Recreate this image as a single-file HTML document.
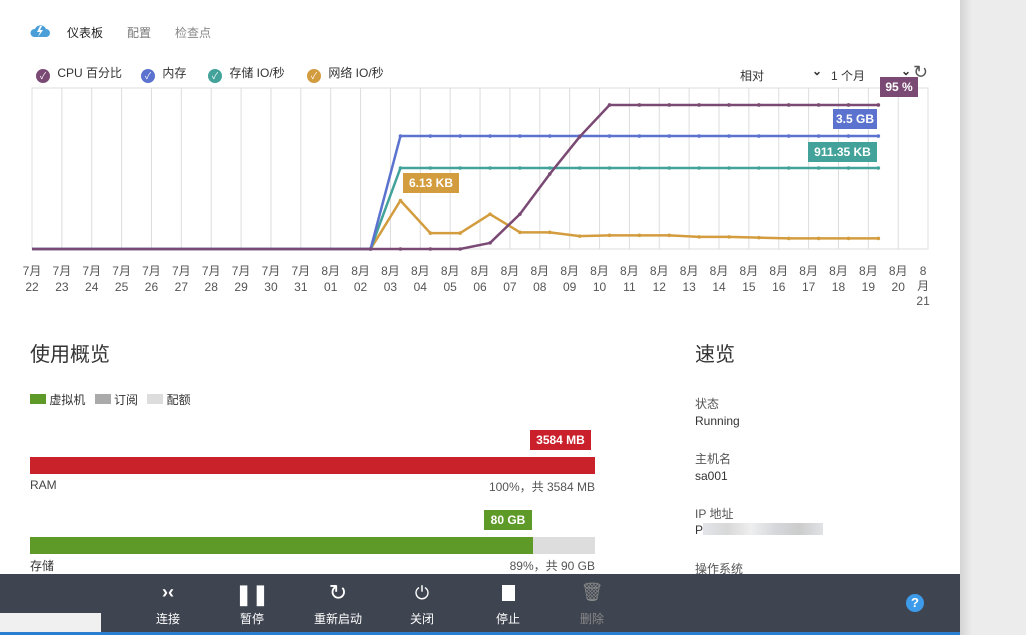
<!DOCTYPE html>
<html><head><meta charset="utf-8"><style>
body{margin:0;width:1026px;height:635px;overflow:hidden;background:#fff;font-family:"Liberation Sans","Noto Sans CJK SC",sans-serif;color:#333;position:relative}
.a{position:absolute;white-space:nowrap}
.t12{font-size:12px}
.lab{color:#fff;font-weight:bold;font-size:12px;text-align:center;line-height:20px;height:20px}
</style></head><body>
<div class="a" style="left:960px;top:0;width:66px;height:635px;background:linear-gradient(90deg,#d4d4d4,#ececec 12px,#ececec)"></div>
<svg class="a" style="left:30px;top:24px" width="20" height="14" viewBox="0 0 20 14"><path d="M4 13 A4 4 0 0 1 5 5 A6 6 0 0 1 16 5 A4 4 0 0 1 16 13 Z" fill="#4a9fd8"/><path d="M10 2 L7 8 L10 8 L8 13 L13 6 L10 6 L12 2Z" fill="#fff"/></svg>
<div class="a t12" style="left:67px;top:24px;color:#222">仪表板</div>
<div class="a t12" style="left:127px;top:24px;color:#777">配置</div>
<div class="a t12" style="left:175px;top:24px;color:#888">检查点</div>

<div class="a t12" style="left:36px;top:64px"><span style="display:inline-block;width:14px;height:14px;border-radius:50%;background:#7a4a74;color:#fff;font-size:9px;text-align:center;line-height:14px;vertical-align:-2px">✓</span> <span style="margin-left:4px">CPU 百分比</span></div>
<div class="a t12" style="left:141px;top:64px"><span style="display:inline-block;width:14px;height:14px;border-radius:50%;background:#5b73cf;color:#fff;font-size:9px;text-align:center;line-height:14px;vertical-align:-2px">✓</span> <span style="margin-left:4px">内存</span></div>
<div class="a t12" style="left:208px;top:64px"><span style="display:inline-block;width:14px;height:14px;border-radius:50%;background:#43a39b;color:#fff;font-size:9px;text-align:center;line-height:14px;vertical-align:-2px">✓</span> <span style="margin-left:4px">存储 IO/秒</span></div>
<div class="a t12" style="left:307px;top:64px"><span style="display:inline-block;width:14px;height:14px;border-radius:50%;background:#d39c3e;color:#fff;font-size:9px;text-align:center;line-height:14px;vertical-align:-2px">✓</span> <span style="margin-left:4px">网络 IO/秒</span></div>
<div class="a t12" style="left:740px;top:67px;width:80px">相对<span style="position:absolute;left:72px;top:-3px;font-size:12px;font-weight:bold">⌄</span></div>
<div class="a t12" style="left:831px;top:67px;width:80px">1 个月<span style="position:absolute;left:70px;top:-3px;font-size:12px;font-weight:bold">⌄</span></div>
<div class="a" style="left:913px;top:62px;font-size:18px;color:#555">↻</div>

<svg id="chart" class="a" style="left:0;top:0" width="960" height="320"></svg>

<div class="a lab" style="left:880px;top:77px;width:38px;background:#7a4a74">95 %</div>
<div class="a lab" style="left:833px;top:109px;width:44px;background:#5b73cf">3.5 GB</div>
<div class="a lab" style="left:808px;top:142px;width:69px;background:#43a39b">911.35 KB</div>
<div class="a lab" style="left:403px;top:173px;width:56px;background:#d39c3e">6.13 KB</div>

<div class="a" style="left:30px;top:338px;font-size:20px;color:#333">使用概览</div>
<div class="a t12" style="left:30px;top:391px"><span style="display:inline-block;width:16px;height:10px;background:#5e9a28"></span> 虚拟机 <span style="display:inline-block;width:16px;height:10px;background:#aaa;margin-left:6px"></span> 订阅 <span style="display:inline-block;width:16px;height:10px;background:#ddd;margin-left:6px"></span> 配额</div>
<div class="a lab" style="left:530px;top:430px;width:61px;background:#c9202b">3584 MB</div>
<div class="a" style="left:30px;top:457px;width:565px;height:17px;background:#c9222b"></div>
<div class="a t12" style="left:30px;top:478px;color:#444">RAM</div>
<div class="a t12" style="left:470px;top:478px;width:125px;text-align:right;color:#555">100%，共 3584 MB</div>
<div class="a lab" style="left:484px;top:510px;width:48px;background:#5e9a28">80 GB</div>
<div class="a" style="left:30px;top:537px;width:565px;height:17px;background:#ddd"></div>
<div class="a" style="left:30px;top:537px;width:503px;height:17px;background:#5e9a28"></div>
<div class="a t12" style="left:30px;top:557px;color:#333">存储</div>
<div class="a t12" style="left:470px;top:557px;width:125px;text-align:right;color:#555">89%，共 90 GB</div>

<div class="a" style="left:695px;top:338px;font-size:20px;color:#333">速览</div>
<div class="a t12" style="left:695px;top:395px;color:#555">状态</div>
<div class="a t12" style="left:695px;top:414px">Running</div>
<div class="a t12" style="left:695px;top:450px;color:#555">主机名</div>
<div class="a t12" style="left:695px;top:469px">sa001</div>
<div class="a t12" style="left:695px;top:505px;color:#555">IP 地址</div>
<div class="a t12" style="left:695px;top:523px">P<span style="display:inline-block;width:120px;height:12px;background:linear-gradient(90deg,#e2e5ea,#d8d8d8,#eee,#d5d8dc,#ccc,#e0e2e6);vertical-align:-1px"></span></div>
<div class="a t12" style="left:695px;top:560px;color:#555">操作系统</div>

<div class="a" style="left:0;top:574px;width:960px;height:58px;background:#3e4450"></div>
<div class="a" style="left:0;top:613px;width:101px;height:19px;background:#f0f0f0"></div>
<div class="a" style="left:0;top:632px;width:960px;height:3px;background:#2b7fd0"></div>
<div class="a" style="left:148px;top:582px;width:40px;text-align:center;color:#fff;font-size:12px"><div style="font-size:18px;font-weight:bold;height:28px">›‹</div>连接</div>
<div class="a" style="left:232px;top:582px;width:40px;text-align:center;color:#fff;font-size:12px"><div style="font-size:20px;font-weight:bold;height:28px">❚❚</div>暂停</div>
<div class="a" style="left:310px;top:582px;width:56px;text-align:center;color:#fff;font-size:12px"><div style="font-size:22px;height:28px;line-height:22px">↻</div>重新启动</div>
<div class="a" style="left:402px;top:582px;width:40px;text-align:center;color:#fff;font-size:12px"><div style="font-size:18px;height:28px;line-height:22px">⏻</div>关闭</div>
<div class="a" style="left:488px;top:582px;width:40px;text-align:center;color:#fff;font-size:12px"><div style="height:28px"><span style="display:inline-block;width:13px;height:16px;background:#fff;margin-top:3px"></span></div>停止</div>
<div class="a" style="left:572px;top:582px;width:40px;text-align:center;color:#888;font-size:12px"><div style="font-size:18px;height:28px">🗑</div>删除</div>
<div class="a" style="left:906px;top:594px;width:18px;height:18px;border-radius:50%;background:#3d9be9;color:#fff;font-weight:bold;font-size:13px;text-align:center;line-height:18px">?</div>

<script>
const dayLabels=["22","23","24","25","26","27","28","29","30","31","01","02","03","04","05","06","07","08","09","10","11","12","13","14","15","16","17","18","19","20","21"];
const monthLabels=["7月","7月","7月","7月","7月","7月","7月","7月","7月","7月","8月","8月","8月","8月","8月","8月","8月","8月","8月","8月","8月","8月","8月","8月","8月","8月","8月","8月","8月","8月","8月"];
const cpu=[0,0,0,0,0,0,0,0,0,0,0,0,0,0,0,4,23,49.5,74,95,95,95,95,95,95,95,95,95,95];
const memory=[0,0,0,0,0,0,0,0,0,0,0,0,74.5,74.5,74.5,74.5,74.5,74.5,74.5,74.5,74.5,74.5,74.5,74.5,74.5,74.5,74.5,74.5,74.5];
const storage=[0,0,0,0,0,0,0,0,0,0,0,0,53.4,53.4,53.4,53.4,53.4,53.4,53.4,53.4,53.4,53.4,53.4,53.4,53.4,53.4,53.4,53.4,53.4];
const network=[0,0,0,0,0,0,0,0,0,0,0,0,32,10.5,10.5,23,11,11,8.5,9,9,9,8,8,7.5,7,7,7,7];
const svg=document.getElementById('chart');
const NS='http://www.w3.org/2000/svg';
const L=32,R=928,T=88,B=249,STEP=29.87;
function gx(i){return L+i*STEP;}
function px(i){return L+10+i*STEP;}
function py(v){return B-v*1.516;}
function mk(tag,attrs){const e=document.createElementNS(NS,tag);for(const k in attrs)e.setAttribute(k,attrs[k]);svg.appendChild(e);return e;}
const frame=mk('rect',{x:L,y:T,width:R-L,height:B-T,fill:'none',stroke:'#ddd'});


dayLabels.forEach((d,i)=>{
  const x=gx(i);
  if(i>0&&x<R){const g=mk('line',{x1:x,y1:T,x2:x,y2:B,stroke:'#ddd'});
  
  }
  const last=i===dayLabels.length-1;
  const t=mk('text',{x:x,y:275,'text-anchor':'middle','font-size':12,fill:'#555','font-family':'Liberation Sans, Noto Sans CJK SC, sans-serif'});
  
  
  if(last){
    [monthLabels[i].slice(0,1),monthLabels[i].slice(1),d].forEach((s,k)=>{const ts=document.createElementNS(NS,'tspan');ts.setAttribute('x',x-5);ts.setAttribute('dy',k?15:0);ts.textContent=s;t.appendChild(ts);});
  } else {
    const a=document.createElementNS(NS,'tspan');a.setAttribute('x',x);a.textContent=monthLabels[i];t.appendChild(a);
    const b=document.createElementNS(NS,'tspan');b.setAttribute('x',x);b.setAttribute('dy',16);b.textContent=d;t.appendChild(b);
  }
});
function series(vals,color,name){
  let d='M'+L+','+py(vals[0]);
  vals.forEach((v,i)=>{d+=' L'+px(i)+','+py(v);});
  const p=mk('path',{d:d,fill:'none',stroke:color,'stroke-width':2.5,'stroke-linejoin':'round'});
  
  
  vals.forEach((v,i)=>{if(i>=11){const c=mk('circle',{cx:px(i),cy:py(v),r:1.8,fill:color});
    
    }});
}
series(network,'#d39c3e','network-io');
series(storage,'#43a39b','storage-io');
series(memory,'#5b73cf','memory');
series(cpu,'#7a4a74','cpu');
</script>
</body></html>
